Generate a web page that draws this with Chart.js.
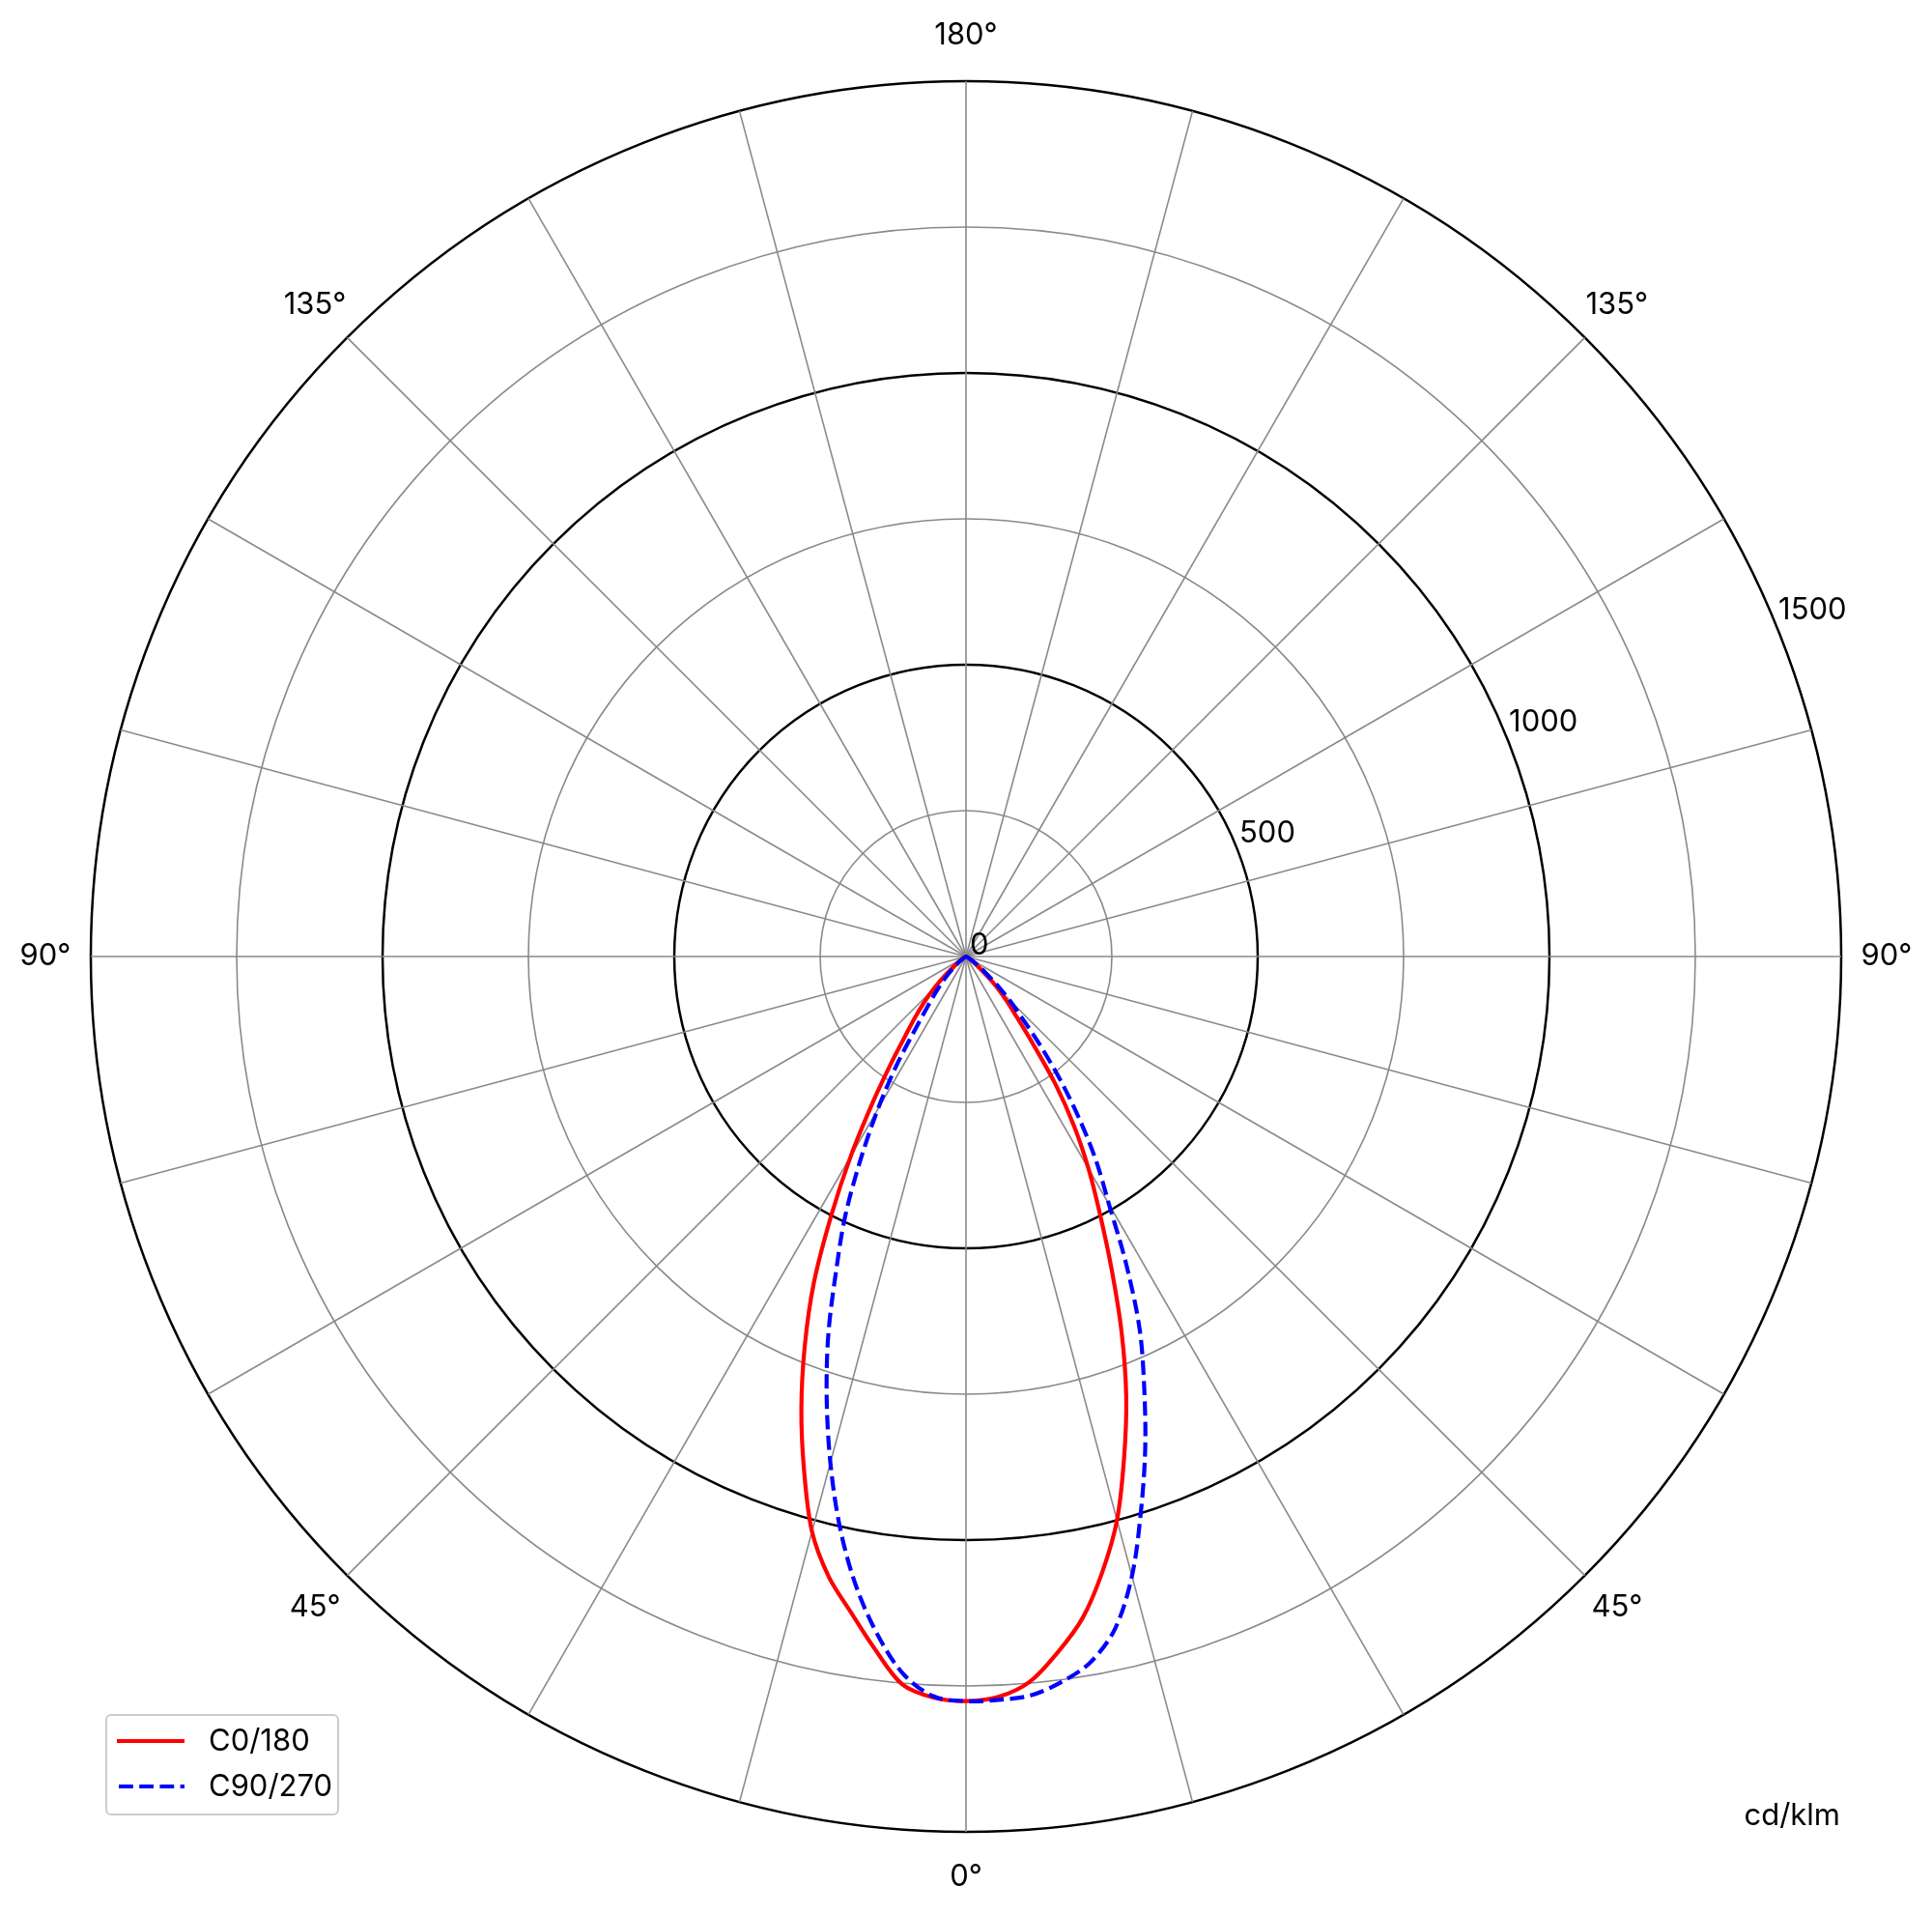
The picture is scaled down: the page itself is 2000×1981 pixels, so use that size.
<!DOCTYPE html>
<html>
<head>
<meta charset="utf-8">
<script src="https://cdn.jsdelivr.net/npm/chart.js@4.4.1/dist/chart.umd.min.js"></script>
<style>
html,body{margin:0;padding:0;background:#fff;}
canvas{display:block;}
</style>
</head>
<body>
<canvas id="c" width="2000" height="1981" style="width:2000px;height:1981px"></canvas>
<script>
// Gamma angles (degrees from nadir), 2.5° steps
const gammaDeg = [0,2.5,5,7.5,10,12.5,15,17.5,20,22.5,25,27.5,30,32.5,35,37.5,40,42.5,45,47.5,50,52.5,55,57.5,60,62.5,65,67.5,70,72.5,75,77.5,80,82.5,85,87.5,90,92.5,95,97.5,100,102.5,105,107.5,110,112.5,115,117.5,120,122.5,125,127.5,130,132.5,135,137.5,140,142.5,145,147.5,150,152.5,155,157.5,160,162.5,165,167.5,170,172.5,175,177.5,180];
// Luminous intensity, cd/klm
const c0   = [1276,1270,1248,1203,1151,1080,1000,901,803,697,590,497,420,345,268,188,135,103,76,50,30,19,12,7,4,2,1,0,0,0,0,0,0,0,0,0,0,0,0,0,0,0,0,0,0,0,0,0,0,0,0,0,0,0,0,0,0,0,0,0,0,0,0,0,0,0,0,0,0,0,0,0,0];
const c180 = [1276,1271,1252,1197,1140,1088,1020,923,825,722,617,500,395,300,225,170,135,105,78,52,32,20,12,7,4,2,1,0,0,0,0,0,0,0,0,0,0,0,0,0,0,0,0,0,0,0,0,0,0,0,0,0,0,0,0,0,0,0,0,0,0,0,0,0,0,0,0,0,0,0,0,0,0];
const c90  = [1276,1275,1271,1254,1228,1180,1099,997,898,798,704,595,490,415,337,263,195,140,105,72,45,30,18,11,7,4,3,2,1,0,0,0,0,0,0,0,0,0,0,0,0,0,0,0,0,0,0,0,0,0,0,0,0,0,0,0,0,0,0,0,0,0,0,0,0,0,0,0,0,0,0,0,0];
const c270 = [1276,1269,1234,1170,1092,1000,898,794,690,581,489,390,302,223,150,108,82,62,45,30,20,13,8,5,3,2,1,0,0,0,0,0,0,0,0,0,0,0,0,0,0,0,0,0,0,0,0,0,0,0,0,0,0,0,0,0,0,0,0,0,0,0,0,0,0,0,0,0,0,0,0,0,0];
const radialTicks = [0, 500, 1000, 1500];
const angleLabelGammas = [0, 45, 90, 135, 180];
const seriesNames = ['C0/180', 'C90/270'];
const unitLabel = 'cd/klm';

// Full-circle positions, clockwise from top: right half = C0 / C90, left half = C180 / C270
const STEP = 2.5;
const N = 144;
const positions = [];
for (let i = 0; i < N; i++) {
  const cw = i * STEP;
  const right = cw <= 180;
  const g = right ? 180 - cw : cw - 180;
  positions.push({ g, right, cw });
}
const labels = positions.map(p => p.g + '°');
const idxOf = g => gammaDeg.indexOf(g);
const redData  = positions.map(p => (p.right ? c0 : c180)[idxOf(p.g)]);
const blueData = positions.map(p => (p.right ? c90 : c270)[idxOf(p.g)]);

const FONT = '31px Inter, "Liberation Sans", sans-serif';
const GRAY = '#8a8a8a';

const overlay = {
  id: 'overlay',
  afterDraw(chart) {
    const ctx = chart.ctx;
    const s = chart.scales.r;
    ctx.save();
    ctx.font = FONT;
    ctx.fillStyle = '#000';
    // angle labels
    ctx.textAlign = 'center';
    ctx.textBaseline = 'middle';
    positions.forEach((p, i) => {
      if (p.cw % 45 !== 0 || angleLabelGammas.indexOf(p.g) < 0) return;
      const pt = s.getPointPosition(i, s.drawingArea + 47);
      ctx.fillText(labels[i], pt.x, pt.y);
    });
    // radial tick labels along 22.5°
    ctx.textAlign = 'left';
    ctx.textBaseline = 'alphabetic';
    const a = 22.5 * Math.PI / 180;
    radialTicks.forEach(v => {
      const d = s.getDistanceFromCenterForValue(v);
      ctx.fillText(String(v), s.xCenter + d * Math.cos(a) + 4, s.yCenter - d * Math.sin(a) - 2);
    });
    // unit label
    ctx.textAlign = 'right';
    ctx.fillText(unitLabel, s.xCenter + s.drawingArea - 1, s.yCenter + s.drawingArea - 7);

    // legend
    const bx = 110, by = 1775, bw = 240, bh = 103;
    ctx.beginPath();
    ctx.roundRect(bx, by, bw, bh, 5);
    ctx.fillStyle = 'rgba(255,255,255,0.8)';
    ctx.fill();
    ctx.lineWidth = 2;
    ctx.strokeStyle = '#cccccc';
    ctx.stroke();
    chart.data.datasets.forEach((ds, k) => {
      const y = by + 27 + k * 47;
      ctx.beginPath();
      ctx.setLineDash(ds.borderDash || []);
      ctx.lineDashOffset = -2;
      ctx.strokeStyle = ds.borderColor;
      ctx.lineWidth = ds.borderWidth;
      ctx.moveTo(bx + 11, y);
      ctx.lineTo(bx + 81, y);
      ctx.stroke();
      ctx.setLineDash([]);
      ctx.fillStyle = '#000';
      ctx.textAlign = 'left';
      ctx.textBaseline = 'middle';
      ctx.fillText(ds.label, bx + 106, y + 1);
    });
    ctx.restore();
  }
};

new Chart(document.getElementById('c'), {
  type: 'radar',
  data: {
    labels: labels,
    datasets: [
      { label: seriesNames[0], data: redData, borderColor: '#ff0000', borderWidth: 4.2,
        fill: false, pointRadius: 0, tension: 0.33, order: 1, borderJoinStyle: 'round' },
      { label: seriesNames[1], data: blueData, borderColor: '#0000ff', borderWidth: 4.2,
        borderDash: [14.8, 6.4], fill: false, pointRadius: 0, tension: 0.33, order: 0, borderJoinStyle: 'round' }
    ]
  },
  options: {
    responsive: false,
    devicePixelRatio: 1,
    animation: false,
    layout: { padding: { left: 94, right: 94, top: 84, bottom: 85 } },
    plugins: { legend: { display: false }, tooltip: { enabled: false } },
    scales: {
      r: {
        min: 0, max: 1500, startAngle: 0,
        ticks: { display: false, stepSize: 250 },
        pointLabels: { display: false },
        grid: {
          circular: true,
          color: c => (c.tick && c.tick.value % 500 === 0) ? '#000000' : GRAY,
          lineWidth: c => (c.tick && c.tick.value % 500 === 0) ? 2.5 : 1.6
        },
        angleLines: {
          display: true,
          color: GRAY,
          lineWidth: c => (c.index % 6 === 0) ? 1.6 : 0
        }
      }
    }
  },
  plugins: [overlay]
});
</script>
</body>
</html>
